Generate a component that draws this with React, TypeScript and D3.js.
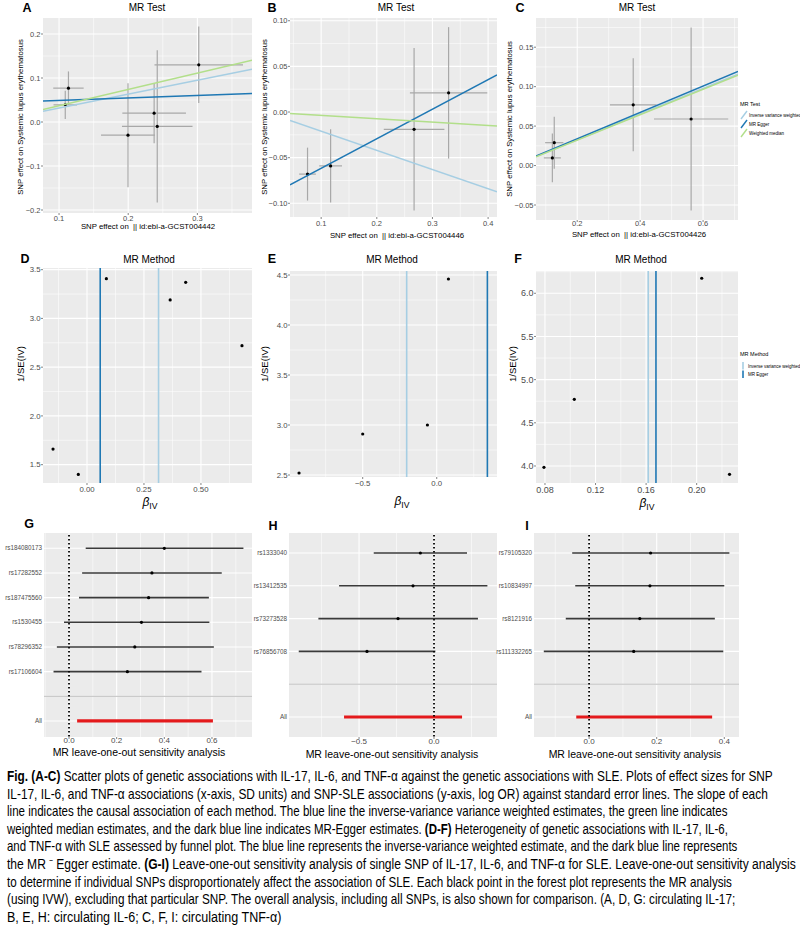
import React, { useLayoutEffect, useRef, useState } from 'react';
import * as d3 from 'd3';

const FONT = '"Liberation Sans", Arial, Helvetica, sans-serif';
const BG = '#EBEBEB';
const TICK_COL = '#4D4D4D';
const IVW_COL = '#a6cee3';
const EGGER_COL = '#1f78b4';
const WM_COL = '#b2df8a';
const ERR_COL = '#a8a8a8';

// ---------- Scatter data (A: IL-17, B: IL-6, C: TNF-alpha) ----------
const scatA_bx = [0.1136, 0.109, 0.2375, 0.242, 0.1997, 0.302];
const scatA_by = [0.077, 0.039, 0.020, -0.010, -0.030, 0.130];
const scatA_sx = [0.022, 0.017, 0.046, 0.051, 0.039, 0.064];
const scatA_sy = [0.038, 0.032, 0.068, 0.173, 0.118, 0.087];
const linesA_intercept = [0, 0.0437, 0];
const linesA_slope = [0.316, 0.056, 0.37];

const scatB_bx = [0.0755, 0.117, 0.267, 0.329];
const scatB_by = [-0.068, -0.059, -0.019, 0.021];
const scatB_sx = [0.015, 0.0205, 0.0545, 0.0695];
const scatB_sy = [0.029, 0.040, 0.089, 0.072];
const linesB_intercept = [0, -0.094, 0];
const linesB_slope = [-0.21, 0.324, -0.037];

const scatC_bx = [0.127, 0.121, 0.378, 0.562];
const scatC_by = [0.029, 0.0097, 0.077, 0.059];
const scatC_sx = [0.029, 0.027, 0.074, 0.118];
const scatC_sy = [0.033, 0.031, 0.059, 0.116];
const linesC_intercept = [0, 0.0005, 0];
const linesC_slope = [0.163, 0.167, 0.161];

const methodNames = ['Inverse variance weighted', 'MR Egger', 'Weighted median'];
const methodColors = [IVW_COL, EGGER_COL, WM_COL];

// ---------- Funnel data (D, E, F) ----------
const funD_beta = [0.085, 0.365, 0.433, 0.680, -0.149, -0.038];
const funD_invse = [3.408, 3.19, 3.37, 2.72, 1.66, 1.40];
const funD_ivw = 0.314;
const funD_egger = 0.058;

const funE_beta = [-0.930, -0.500, -0.063, 0.079];
const funE_invse = [2.52, 2.91, 3.0, 4.46];
const funE_ivw = -0.203;
const funE_egger = 0.342;

const funF_beta = [0.0792, 0.1032, 0.204, 0.226];
const funF_invse = [3.985, 4.772, 6.174, 3.904];
const funF_ivw = 0.1617;
const funF_egger = 0.1678;

// ---------- Leave-one-out data (G, H, I) ----------
const looG_snp = ['rs184080173', 'rs17282552', 'rs187475560', 'rs1530455', 'rs78296352', 'rs17106604'];
const looG_est = [0.400, 0.348, 0.334, 0.304, 0.276, 0.245];
const looG_lo = [0.070, 0.055, 0.042, -0.021, -0.051, -0.065];
const looG_hi = [0.732, 0.641, 0.587, 0.589, 0.608, 0.556];
const looG_all = [0.319, 0.034, 0.604];

const looH_snp = ['rs1333040', 'rs13412535', 'rs73273528', 'rs76856708'];
const looH_est = [-0.091, -0.140, -0.240, -0.447];
const looH_lo = [-0.402, -0.633, -0.771, -0.902];
const looH_hi = [0.220, 0.356, 0.293, 0.009];
const looH_all = [-0.207, -0.600, 0.187];

const looI_snp = ['rs79105320', 'rs10834997', 'rs8121916', 'rs111332265'];
const looI_est = [0.182, 0.180, 0.150, 0.132];
const looI_lo = [-0.050, -0.041, -0.069, -0.134];
const looI_hi = [0.415, 0.400, 0.372, 0.397];
const looI_all = [0.163, -0.038, 0.364];

// ---------- Caption ----------
const captionLines: { parts: [string, boolean][]; w: number }[] = [
  { parts: [['Fig. (A-C)', true], [' Scatter plots of genetic associations with IL-17, IL-6, and TNF-α against the genetic associations with SLE. Plots of effect sizes for SNP', false]], w: 766 },
  { parts: [['IL-17, IL-6, and TNF-α associations (x-axis, SD units) and SNP-SLE associations (y-axis, log OR) against standard error lines. The slope of each', false]], w: 761 },
  { parts: [['line indicates the causal association of each method. The blue line the inverse-variance variance weighted estimates, the green line indicates', false]], w: 721 },
  { parts: [['weighted median estimates, and the dark blue line indicates MR-Egger estimates. ', false], ['(D-F)', true], [' Heterogeneity of genetic associations with IL-17, IL-6,', false]], w: 721 },
  { parts: [['and TNF-α with SLE assessed by funnel plot. The blue line represents the inverse-variance weighted estimate, and the dark blue line represents', false]], w: 731 },
  { parts: [['the MR ⁻ Egger estimate. ', false], ['(G-I)', true], [' Leave-one-out sensitivity analysis of single SNP of IL-17, IL-6, and TNF-α for SLE. Leave-one-out sensitivity analysis', false]], w: 789 },
  { parts: [['to determine if individual SNPs disproportionately affect the association of SLE. Each black point in the forest plot represents the MR analysis', false]], w: 725 },
  { parts: [['(using IVW), excluding that particular SNP. The overall analysis, including all SNPs, is also shown for comparison. (A, D, G: circulating IL-17;', false]], w: 729 },
  { parts: [['B, E, H: circulating IL-6; C, F, I: circulating TNF-α)', false]], w: 316 },
];

type Spec = {
  x0: number; x1: number; y0: number; y1: number;
  xd: [number, number]; yd: [number, number];
  xStep: number; yStep?: number; xFmt: string; yFmt?: string;
  tickFs: number; xTickBase: number;
};

function gridValues(domain: [number, number], step: number) {
  const half = step / 2;
  const out: { v: number; major: boolean }[] = [];
  const k0 = Math.ceil(domain[0] / half - 1e-6);
  const k1 = Math.floor(domain[1] / half + 1e-6);
  for (let k = k0; k <= k1; k++) out.push({ v: +(k * half).toFixed(10), major: k % 2 === 0 });
  return out;
}

function scales(s: Spec) {
  const xs = d3.scaleLinear().domain(s.xd).range([s.x0, s.x1]);
  const ys = d3.scaleLinear().domain(s.yd).range([s.y1, s.y0]);
  return { xs, ys };
}

function Frame({ s, xs, ys, discreteY }: { s: Spec; xs: any; ys: any; discreteY?: number[] }) {
  const gx = gridValues(s.xd, s.xStep);
  const gy = discreteY ? discreteY.map((v) => ({ v, major: true })) : gridValues(s.yd, s.yStep!);
  const fx = d3.format(s.xFmt);
  const fy = s.yFmt ? d3.format(s.yFmt) : null;
  return (
    <g>
      <rect x={s.x0} y={s.y0} width={s.x1 - s.x0} height={s.y1 - s.y0} fill={BG} />
      {gy.filter((g) => !g.major).map((g) => (
        <line key={'gym' + g.v} x1={s.x0} x2={s.x1} y1={ys(g.v)} y2={ys(g.v)} stroke="#fff" strokeWidth={0.55} />
      ))}
      {gx.filter((g) => !g.major).map((g) => (
        <line key={'gxm' + g.v} x1={xs(g.v)} x2={xs(g.v)} y1={s.y0} y2={s.y1} stroke="#fff" strokeWidth={0.55} />
      ))}
      {gy.filter((g) => g.major).map((g) => (
        <line key={'gy' + g.v} x1={s.x0} x2={s.x1} y1={ys(g.v)} y2={ys(g.v)} stroke="#fff" strokeWidth={1.1} />
      ))}
      {gx.filter((g) => g.major).map((g) => (
        <line key={'gx' + g.v} x1={xs(g.v)} x2={xs(g.v)} y1={s.y0} y2={s.y1} stroke="#fff" strokeWidth={1.1} />
      ))}
      {gx.filter((g) => g.major).map((g) => (
        <g key={'tx' + g.v}>
          <line x1={xs(g.v)} x2={xs(g.v)} y1={s.y1} y2={s.y1 + 2} stroke="#333" strokeWidth={0.6} />
          <text x={xs(g.v)} y={s.xTickBase} fontSize={s.tickFs} fill={TICK_COL} textAnchor="middle" fontFamily={FONT}>
            {fx(g.v)}
          </text>
        </g>
      ))}
      {fy && gy.filter((g) => g.major).map((g) => (
        <g key={'ty' + g.v}>
          <line x1={s.x0 - 2} x2={s.x0} y1={ys(g.v)} y2={ys(g.v)} stroke="#333" strokeWidth={0.6} />
          <text x={s.x0 - 2.5} y={ys(g.v) + s.tickFs * 0.35} fontSize={s.tickFs} fill={TICK_COL} textAnchor="end" fontFamily={FONT}>
            {fy(g.v)}
          </text>
        </g>
      ))}
    </g>
  );
}

function Scatter({ id, s, bx, by, sx, sy, icpt, slope }: any) {
  const { xs, ys } = scales(s);
  return (
    <g>
      <Frame s={s} xs={xs} ys={ys} />
      <clipPath id={id}>
        <rect x={s.x0} y={s.y0} width={s.x1 - s.x0} height={s.y1 - s.y0} />
      </clipPath>
      <g clipPath={`url(#${id})`}>
        {bx.map((x: number, i: number) => (
          <g key={'e' + i}>
            <line x1={xs(x)} x2={xs(x)} y1={ys(by[i] - sy[i])} y2={ys(by[i] + sy[i])} stroke={ERR_COL} strokeWidth={1.2} />
            <line x1={xs(x - sx[i])} x2={xs(x + sx[i])} y1={ys(by[i])} y2={ys(by[i])} stroke={ERR_COL} strokeWidth={1.2} />
          </g>
        ))}
        {bx.map((x: number, i: number) => (
          <circle key={'p' + i} cx={xs(x)} cy={ys(by[i])} r={1.6} fill="#000" />
        ))}
        {slope.map((b: number, k: number) => (
          <line key={'l' + k} x1={xs(s.xd[0])} x2={xs(s.xd[1])} y1={ys(icpt[k] + b * s.xd[0])} y2={ys(icpt[k] + b * s.xd[1])}
            stroke={methodColors[k]} strokeWidth={1.5} />
        ))}
      </g>
    </g>
  );
}

function Funnel({ s, beta, invse, ivw, egger }: any) {
  const { xs, ys } = scales(s);
  return (
    <g>
      <Frame s={s} xs={xs} ys={ys} />
      {beta.map((b: number, i: number) => (
        <circle key={i} cx={xs(b)} cy={ys(invse[i])} r={1.6} fill="#000" />
      ))}
      <line x1={xs(ivw)} x2={xs(ivw)} y1={s.y0} y2={s.y1} stroke={IVW_COL} strokeWidth={1.6} />
      <line x1={xs(egger)} x2={xs(egger)} y1={s.y0} y2={s.y1} stroke={EGGER_COL} strokeWidth={1.6} />
    </g>
  );
}

function Forest({ s, snp, est, lo, hi, all }: any) {
  const { xs, ys } = scales(s);
  const n = snp.length;
  const positions = d3.range(1, n + 3);
  return (
    <g>
      <Frame s={s} xs={xs} ys={ys} discreteY={positions} />
      {snp.map((name: string, i: number) => {
        const y = ys(n + 2 - i);
        return (
          <g key={name}>
            <line x1={xs(lo[i])} x2={xs(hi[i])} y1={y} y2={y} stroke="#3a3a3a" strokeWidth={1.6} />
            <circle cx={xs(est[i])} cy={y} r={1.6} fill="#000" />
            <text x={s.x0 - 2} y={y + 2.2} fontSize={6.3} fill={TICK_COL} textAnchor="end" fontFamily={FONT}>{name}</text>
          </g>
        );
      })}
      <line x1={s.x0} x2={s.x1} y1={ys(2)} y2={ys(2)} stroke="#bebebe" strokeWidth={1} />
      <line x1={xs(all[1])} x2={xs(all[2])} y1={ys(1)} y2={ys(1)} stroke="#e41a1c" strokeWidth={3.2} />
      <text x={s.x0 - 2} y={ys(1) + 2.2} fontSize={6.3} fill={TICK_COL} textAnchor="end" fontFamily={FONT}>All</text>
      <line x1={xs(0)} x2={xs(0)} y1={s.y0 + 2} y2={s.y1} stroke="#000" strokeWidth={1.8} strokeDasharray="1.6 2.4" />
    </g>
  );
}

const specA: Spec = { x0: 43, x1: 252, y0: 18, y1: 213, xd: [0.0768, 0.379], yd: [-0.2068, 0.2364], xStep: 0.1, yStep: 0.1, xFmt: '.1f', yFmt: '.1f', tickFs: 7.5, xTickBase: 221 };
const specB: Spec = { x0: 290, x1: 497, y0: 18, y1: 217, xd: [0.044, 0.416], yd: [-0.115, 0.103], xStep: 0.1, yStep: 0.05, xFmt: '.1f', yFmt: '.2f', tickFs: 7.5, xTickBase: 226 };
const specC: Spec = { x0: 536, x1: 738, y0: 18, y1: 220, xd: [0.069, 0.711], yd: [-0.069, 0.187], xStep: 0.2, yStep: 0.05, xFmt: '.1f', yFmt: '.2f', tickFs: 7.5, xTickBase: 226 };
const specD: Spec = { x0: 43, x1: 252, y0: 268, y1: 483, xd: [-0.193, 0.724], yd: [1.312, 3.517], xStep: 0.25, yStep: 0.5, xFmt: '.2f', yFmt: '.1f', tickFs: 7.8, xTickBase: 492 };
const specE: Spec = { x0: 290, x1: 497, y0: 271, y1: 477, xd: [-0.991, 0.407], yd: [2.48, 4.54], xStep: 0.5, yStep: 0.5, xFmt: '.1f', yFmt: '.1f', tickFs: 7.8, xTickBase: 486 };
const specF: Spec = { x0: 536, x1: 738, y0: 271, y1: 483, xd: [0.0729, 0.2327], yd: [3.803, 6.258], xStep: 0.04, yStep: 0.5, xFmt: '.2f', yFmt: '.1f', tickFs: 9, xTickBase: 493 };
const specG: Spec = { x0: 44, x1: 252, y0: 533, y1: 737, xd: [-0.105, 0.768], yd: [0.35, 8.62], xStep: 0.2, xFmt: '.1f', tickFs: 8, xTickBase: 743 };
const specH: Spec = { x0: 289, x1: 497, y0: 533, y1: 737, xd: [-0.967, 0.42], yd: [0.39, 6.61], xStep: 0.5, xFmt: '.1f', tickFs: 8, xTickBase: 744 };
const specI: Spec = { x0: 534, x1: 739, y0: 533, y1: 737, xd: [-0.163, 0.4435], yd: [0.39, 6.61], xStep: 0.2, xFmt: '.1f', tickFs: 8, xTickBase: 744 };

function Letter({ x, y, t }: { x: number; y: number; t: string }) {
  return <text x={x} y={y} fontSize={12.5} fontWeight="bold" fontFamily={FONT} textAnchor="middle">{t}</text>;
}
function Title({ x, y, t }: { x: number; y: number; t: string }) {
  return <text x={x} y={y} fontSize={10} fontFamily={FONT} textAnchor="middle">{t}</text>;
}
function YTitle({ x, y, t, fs }: { x: number; y: number; t: string; fs: number }) {
  return <text transform={`translate(${x},${y}) rotate(-90)`} fontSize={fs} fontFamily={FONT} textAnchor="middle">{t}</text>;
}
function XTitle({ x, y, t, fs }: { x: number; y: number; t: string; fs: number }) {
  return <text x={x} y={y} fontSize={fs} fontFamily={FONT} textAnchor="middle" style={{ whiteSpace: 'pre' }}>{t}</text>;
}
function BetaTitle({ x, y, fs }: { x: number; y: number; fs: number }) {
  return (
    <text x={x} y={y} fontSize={fs} fontFamily={FONT} textAnchor="middle">
      <tspan fontStyle="italic">β</tspan>
      <tspan fontSize={fs * 0.72} dy={3}>IV</tspan>
    </text>
  );
}

const CAP_FONT = '"Liberation Sans Narrow", "Arial Narrow", "Liberation Sans", Arial, sans-serif';

function Caption() {
  const refs = useRef<(SVGTextElement | null)[]>([]);
  const [sx, setSx] = useState<number[]>(captionLines.map(() => 0.82));
  useLayoutEffect(() => {
    let nat = 0;
    let target = 0;
    const lens = refs.current.map((el) => (el ? el.getComputedTextLength() : 0));
    lens.forEach((l, i) => {
      if (i < 8) { nat += l; target += captionLines[i].w; }
    });
    if (nat > 0) {
      const g = target / nat;
      setSx(lens.map((l, i) => {
        const own = l > 0 ? captionLines[i].w / l : g;
        return Math.max(g * 0.93, Math.min(g * 1.07, own));
      }));
    }
  }, []);
  return (
    <g>
      {captionLines.map((ln, i) => (
        <text key={i} ref={(el) => { refs.current[i] = el; }} x={0} y={0}
          transform={`translate(7,${781 + i * 17.6}) scale(${sx[i]},1)`}
          fontSize={14} fontFamily={CAP_FONT} style={{ whiteSpace: 'pre' }}>
          {ln.parts.map(([t, b], j) => (
            <tspan key={j} fontWeight={b ? 'bold' : 'normal'}>{t}</tspan>
          ))}
        </text>
      ))}
    </g>
  );
}

export default function App() {
  const yLab = 'SNP effect on Systemic lupus erythematosus';
  return (
    <svg width={800} height={927} style={{ position: 'absolute', left: 0, top: 0, background: '#fff' }} fontFamily={FONT}>
      <rect x={0} y={0} width={800} height={927} fill="#fff" />
      {/* Top row */}
      <Letter x={27} y={12} t="A" />
      <Letter x={272} y={12} t="B" />
      <Letter x={520} y={12} t="C" />
      <Title x={147} y={11} t="MR Test" />
      <Title x={396} y={11} t="MR Test" />
      <Title x={637} y={11} t="MR Test" />
      <Scatter id="cA" s={specA} bx={scatA_bx} by={scatA_by} sx={scatA_sx} sy={scatA_sy} icpt={linesA_intercept} slope={linesA_slope} />
      <Scatter id="cB" s={specB} bx={scatB_bx} by={scatB_by} sx={scatB_sx} sy={scatB_sy} icpt={linesB_intercept} slope={linesB_slope} />
      <Scatter id="cC" s={specC} bx={scatC_bx} by={scatC_by} sx={scatC_sx} sy={scatC_sy} icpt={linesC_intercept} slope={linesC_slope} />
      <YTitle x={23} y={117} t={yLab} fs={7.8} />
      <YTitle x={267} y={117} t={yLab} fs={7.8} />
      <YTitle x={512} y={119} t={yLab} fs={7.8} />
      <XTitle x={148} y={229} t="SNP effect on  || id:ebi-a-GCST004442" fs={7.8} />
      <XTitle x={397} y={238} t="SNP effect on  || id:ebi-a-GCST004446" fs={7.8} />
      <XTitle x={639} y={237} t="SNP effect on  || id:ebi-a-GCST004426" fs={7.8} />
      {/* Legend C */}
      <text x={740} y={106} fontSize={5.5} fontFamily={FONT}>MR Test</text>
      {methodNames.map((m, i) => (
        <g key={m}>
          <line x1={741} x2={747} y1={119 + i * 9} y2={111 + i * 9} stroke={methodColors[i]} strokeWidth={1.4} />
          <text x={749} y={116.6 + i * 9} fontSize={4.5} fontFamily={FONT}>{m}</text>
        </g>
      ))}

      {/* Middle row */}
      <Letter x={25} y={263} t="D" />
      <Letter x={272} y={263} t="E" />
      <Letter x={518} y={263} t="F" />
      <Title x={149} y={263} t="MR Method" />
      <Title x={392} y={263} t="MR Method" />
      <Title x={641} y={263} t="MR Method" />
      <Funnel s={specD} beta={funD_beta} invse={funD_invse} ivw={funD_ivw} egger={funD_egger} />
      <Funnel s={specE} beta={funE_beta} invse={funE_invse} ivw={funE_ivw} egger={funE_egger} />
      <Funnel s={specF} beta={funF_beta} invse={funF_invse} ivw={funF_ivw} egger={funF_egger} />
      <YTitle x={24} y={364} t="1/SE(IV)" fs={9.5} />
      <YTitle x={268} y={364} t="1/SE(IV)" fs={9.5} />
      <YTitle x={516} y={364} t="1/SE(IV)" fs={9.5} />
      <BetaTitle x={150} y={506} fs={12} />
      <BetaTitle x={402} y={505} fs={12} />
      <BetaTitle x={647} y={507} fs={12} />
      {/* Legend F */}
      <text x={740} y={356} fontSize={5.5} fontFamily={FONT}>MR Method</text>
      {methodNames.slice(0, 2).map((m, i) => (
        <g key={m}>
          <line x1={743} x2={743} y1={362 + i * 8.5} y2={369.5 + i * 8.5} stroke={methodColors[i]} strokeWidth={1.6} />
          <text x={748} y={367.5 + i * 8.5} fontSize={4.5} fontFamily={FONT}>{m}</text>
        </g>
      ))}

      {/* Bottom row */}
      <Letter x={29} y={528} t="G" />
      <Letter x={273} y={530} t="H" />
      <Letter x={527} y={530} t="I" />
      <Forest s={specG} snp={looG_snp} est={looG_est} lo={looG_lo} hi={looG_hi} all={looG_all} />
      <Forest s={specH} snp={looH_snp} est={looH_est} lo={looH_lo} hi={looH_hi} all={looH_all} />
      <Forest s={specI} snp={looI_snp} est={looI_est} lo={looI_lo} hi={looI_hi} all={looI_all} />
      <XTitle x={139} y={756} t="MR leave-one-out sensitivity analysis" fs={10.5} />
      <XTitle x={392} y={758} t="MR leave-one-out sensitivity analysis" fs={10.5} />
      <XTitle x={635} y={758} t="MR leave-one-out sensitivity analysis" fs={10.5} />

      {/* Caption */}
      <Caption />
    </svg>
  );
}
